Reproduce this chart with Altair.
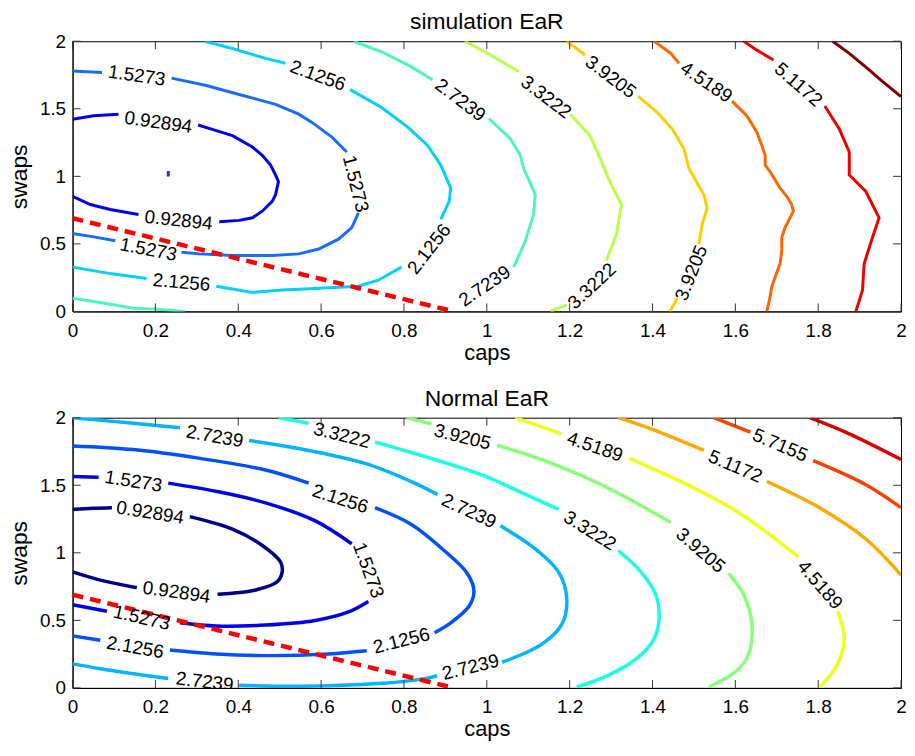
import altair as alt
import pandas as pd

FONT = "Liberation Sans"

# ---------------- data: contour levels ----------------
levels = [0.33061, 0.92894, 1.5273, 2.1256, 2.7239, 3.3222, 3.9205, 4.5189, 5.1172, 5.7155, 6.3138]

# jet colours
sim_colors = ["#2a2ae0", "#0000f0", "#1a6cff", "#00d0ff", "#4cf7b4", "#b8ff47", "#ffcc00", "#ff6600", "#ee0000", "#800000"]
nrm_colors = ["#00008a", "#0000ea", "#0050ff", "#00b4ff", "#1affe4", "#88ff78", "#eeff18", "#ffa800", "#ff4000", "#d80000"]

# ---------------- simulation EaR (top) : contour segments ----------------
sim_0331 = [[(0.231, 0.998), (0.231, 1.039)]]
sim_0929 = [
    [(0.0, 1.423), (0.051, 1.448), (0.111, 1.460)],
    [(0.303, 1.380), (0.347, 1.338), (0.386, 1.301), (0.434, 1.217), (0.458, 1.156), (0.478, 1.083),
     (0.490, 1.010), (0.497, 0.961), (0.490, 0.864), (0.482, 0.815), (0.458, 0.742), (0.434, 0.693),
     (0.402, 0.674), (0.354, 0.664)],
    [(0.159, 0.718), (0.091, 0.754), (0.043, 0.791), (0.0, 0.852)],
]
sim_1527 = [
    [(0.0, 1.779), (0.071, 1.769)],
    [(0.239, 1.727), (0.323, 1.672), (0.402, 1.606), (0.490, 1.533), (0.546, 1.460), (0.578, 1.399),
     (0.626, 1.290), (0.662, 1.180)],
    [(0.690, 0.730), (0.674, 0.620), (0.642, 0.535), (0.594, 0.462), (0.546, 0.426), (0.482, 0.414),
     (0.386, 0.414), (0.307, 0.426), (0.263, 0.438)],
    [(0.103, 0.523), (0.051, 0.552), (0.0, 0.577)],
]
sim_2126 = [
    [(0.319, 2.0), (0.386, 1.946), (0.466, 1.873), (0.514, 1.837)],
    [(0.670, 1.642), (0.746, 1.509), (0.810, 1.363), (0.857, 1.229), (0.889, 1.083), (0.913, 0.912),
     (0.909, 0.815), (0.889, 0.681)],
    [(0.794, 0.328), (0.738, 0.231), (0.690, 0.187), (0.586, 0.170), (0.506, 0.158), (0.434, 0.141),
     (0.386, 0.166), (0.347, 0.187)],
    [(0.179, 0.243), (0.091, 0.280), (0.0, 0.328)],
]
sim_2724 = [
    [(0.0, 0.097), (0.067, 0.066), (0.147, 0.024), (0.203, 0.017), (0.271, 0.0)],
    [(0.678, 2.0), (0.746, 1.922), (0.817, 1.812), (0.869, 1.715)],
    [(1.005, 1.428), (1.057, 1.277), (1.081, 1.156), (1.089, 1.058), (1.117, 0.864), (1.113, 0.718),
     (1.093, 0.523), (1.065, 0.328)],
    [(0.889, 0.0), (0.905, 0.025)],
]
sim_3322 = [
    [(0.947, 2.0), (1.009, 1.898), (1.077, 1.776)],
    [(1.201, 1.460), (1.249, 1.302), (1.277, 1.107), (1.297, 0.961), (1.325, 0.791), (1.313, 0.572),
     (1.289, 0.377)],
    [(1.153, 0.0), (1.193, 0.049)],
]
sim_3921 = [
    [(1.193, 2.0), (1.237, 1.898)],
    [(1.365, 1.594), (1.412, 1.472), (1.448, 1.350), (1.476, 1.204), (1.488, 1.058), (1.524, 0.864),
     (1.532, 0.766), (1.520, 0.645), (1.512, 0.499)],
    [(1.441, 0.0), (1.444, 0.012), (1.460, 0.097)],
]
sim_4519 = [
    [(1.404, 2.0), (1.444, 1.910), (1.464, 1.837)],
    [(1.592, 1.557), (1.612, 1.496), (1.628, 1.447), (1.640, 1.387), (1.652, 1.326), (1.664, 1.229),
     (1.672, 1.156), (1.672, 1.083), (1.684, 1.034), (1.696, 0.973), (1.708, 0.912), (1.724, 0.852),
     (1.736, 0.791), (1.740, 0.742), (1.732, 0.693), (1.720, 0.620), (1.712, 0.547), (1.712, 0.450),
     (1.708, 0.353), (1.696, 0.255), (1.688, 0.182), (1.684, 0.109), (1.676, 0.0)],
]
sim_5117 = [
    [(1.620, 2.0), (1.652, 1.934), (1.692, 1.861)],
    [(1.816, 1.520), (1.851, 1.350), (1.875, 1.180), (1.875, 1.010), (1.915, 0.888), (1.947, 0.693),
     (1.931, 0.547), (1.911, 0.353), (1.907, 0.158), (1.891, 0.0)],
]
sim_5716 = [
    [(1.835, 2.0), (1.875, 1.910), (1.923, 1.788), (1.955, 1.703), (2.0, 1.590)],
]

sim_labels = ["1.5273", "0.92894", "0.92894", "1.5273", "2.1256", "2.1256", "1.5273", "2.1256",
              "2.7239", "2.7239", "3.3222", "3.3222", "3.9205", "3.9205", "4.5189", "5.1172"]
sim_label_x = [0.155, 0.207, 0.256, 0.183, 0.263, 0.592, 0.683, 0.861,
               0.936, 0.995, 1.143, 1.254, 1.299, 1.494, 1.530, 1.752]
sim_label_y = [1.745, 1.399, 0.674, 0.458, 0.214, 1.745, 0.944, 0.462,
               1.564, 0.187, 1.586, 0.187, 1.735, 0.285, 1.696, 1.679]
sim_label_angle = [8, 8, 6, 11, 5, 20, 76, -52, 37, -34, 37, -43, 37, -68, 34, 41]

# ---------------- Normal EaR (bottom) : contour segments ----------------
nrm_0929 = [
    [(0.0, 1.321), (0.050, 1.330), (0.095, 1.334)],
    [(0.283, 1.268), (0.386, 1.175), (0.458, 1.054), (0.502, 0.932), (0.506, 0.859), (0.494, 0.786),
     (0.442, 0.725), (0.386, 0.701), (0.350, 0.693)],
    [(0.155, 0.742), (0.067, 0.798), (0.0, 0.859)],
]
nrm_1527 = [
    [(0.0, 1.565), (0.063, 1.560)],
    [(0.231, 1.516), (0.347, 1.455), (0.466, 1.370), (0.586, 1.236), (0.674, 1.066)],
    [(0.714, 0.640), (0.666, 0.562), (0.586, 0.499), (0.466, 0.465), (0.347, 0.458), (0.259, 0.482)],
    [(0.083, 0.567), (0.0, 0.616)],
]
nrm_2126 = [
    [(0.0, 1.791), (0.147, 1.764), (0.307, 1.699), (0.466, 1.613), (0.570, 1.516)],
    [(0.730, 1.334), (0.817, 1.212), (0.897, 1.017), (0.953, 0.847), (0.969, 0.713), (0.957, 0.604),
     (0.913, 0.482), (0.874, 0.409)],
    [(0.710, 0.275), (0.618, 0.251), (0.466, 0.239), (0.347, 0.251), (0.235, 0.280)],
    [(0.067, 0.353), (0.0, 0.385)],
]
nrm_2724 = [
    [(0.0, 2.0), (0.147, 1.959), (0.259, 1.925)],
    [(0.426, 1.832), (0.546, 1.772), (0.706, 1.662), (0.826, 1.516), (0.881, 1.431)],
    [(1.033, 1.200), (1.117, 1.029), (1.173, 0.859), (1.193, 0.664), (1.181, 0.470), (1.133, 0.324),
     (1.037, 0.190)],
    [(0.880, 0.090), (0.850, 0.069), (0.738, 0.032), (0.546, 0.012), (0.402, 0.020)],
    [(0.231, 0.069), (0.147, 0.105), (0.067, 0.142), (0.0, 0.178)],
]
nrm_3322 = [
    [(0.498, 2.0), (0.570, 1.959)],
    [(0.730, 1.820), (0.826, 1.735), (0.929, 1.638), (0.997, 1.565), (1.077, 1.455), (1.173, 1.321)],
    [(1.317, 1.017), (1.372, 0.859), (1.408, 0.689), (1.416, 0.518), (1.405, 0.372), (1.365, 0.226),
     (1.293, 0.093), (1.217, 0.007)],
]
nrm_3921 = [
    [(0.806, 2.0), (0.866, 1.954)],
    [(1.025, 1.796), (1.157, 1.662), (1.301, 1.467), (1.444, 1.224)],
    [(1.584, 0.847), (1.620, 0.689), (1.640, 0.470), (1.632, 0.251), (1.604, 0.129), (1.536, 0.007)],
]
nrm_4519 = [
    [(1.069, 2.0), (1.181, 1.881)],
    [(1.344, 1.699), (1.476, 1.516), (1.596, 1.321), (1.676, 1.151), (1.752, 0.969)],
    [(1.847, 0.567), (1.863, 0.372), (1.847, 0.178), (1.804, 0.007)],
]
nrm_5117 = [
    [(1.317, 2.0), (1.396, 1.918), (1.524, 1.759)],
    [(1.676, 1.528), (1.796, 1.346), (1.915, 1.102), (2.0, 0.835)],
]
nrm_5716 = [
    [(1.548, 2.0), (1.636, 1.893)],
    [(1.788, 1.682), (1.915, 1.504), (2.0, 1.334)],
]
nrm_6314 = [
    [(1.780, 2.0), (1.875, 1.881), (2.0, 1.691)],
]

nrm_labels = ["2.7239", "3.3222", "3.9205", "4.5189", "5.1172", "5.7155", "1.5273", "2.1256",
              "0.92894", "1.5273", "2.7239", "3.3222", "3.9205", "4.5189", "0.92894", "1.5273",
              "2.1256", "2.1256", "2.7239", "2.7239"]
nrm_label_x = [0.343, 0.650, 0.941, 1.261, 1.600, 1.708, 0.147, 0.646,
               0.187, 0.714, 0.957, 1.249, 1.516, 1.804, 0.251, 0.167,
               0.151, 0.794, 0.961, 0.319]
nrm_label_y = [1.861, 1.869, 1.857, 1.784, 1.638, 1.796, 1.528, 1.399,
               1.297, 0.871, 1.309, 1.163, 1.017, 0.762, 0.708, 0.518,
               0.299, 0.348, 0.153, 0.044]
nrm_label_angle = [10, 14, 14, 19, 23, 23, 9, 18,
                   9, 70, 25, 32, 41, 49, 8, 13,
                   10, -14, -14, 7]

# red dashed line
ref_x = [0.0, 0.92]
ref_y = [0.69, 0.0]

# axis ticks
x_ticks = [0.0, 0.2, 0.4, 0.6, 0.8, 1.0, 1.2, 1.4, 1.6, 1.8, 2.0]
y_ticks = [0.0, 0.5, 1.0, 1.5, 2.0]

# ---------------- build charts ----------------
W, H = 834, 272


def contour_frame(level_lists, colors):
    rows = []
    for li, segs in enumerate(level_lists):
        for si, seg in enumerate(segs):
            for oi, (x, y) in enumerate(seg):
                rows.append({"key": f"L{li}", "seg": f"{li}_{si}", "o": oi, "x": x, "y": y})
    return pd.DataFrame(rows), [f"L{i}" for i in range(len(level_lists))], colors[:len(level_lists)]


def panel(title, level_lists, colors, labels, lx, ly, lang, interp, width_line):
    df, keys, cols = contour_frame(level_lists, colors)
    xs = alt.Scale(domain=[0, 2], nice=False, zero=False)
    ys = alt.Scale(domain=[0, 2], nice=False, zero=False)
    xax = alt.Axis(values=x_ticks, format="~g", title="caps", grid=False, ticks=False, tickSize=0,
                   labelFlush=False, labelOverlap=False, labelPadding=10, titlePadding=2,
                   labelFont=FONT, labelFontSize=19, titleFont=FONT, titleFontSize=22,
                   titleFontWeight="normal", labelColor="black", titleColor="black",
                   domainColor="black")
    yax = alt.Axis(values=y_ticks, format="~g", title="swaps", grid=False, ticks=False, tickSize=0,
                   labelFlush=False, labelOverlap=False, labelPadding=7, titlePadding=8,
                   labelFont=FONT, labelFontSize=19, titleFont=FONT, titleFontSize=23,
                   titleFontWeight="normal", labelColor="black", titleColor="black",
                   domainColor="black")

    lines = alt.Chart(df).mark_line(strokeWidth=width_line, interpolate=interp, clip=True).encode(
        x=alt.X("x:Q", scale=xs, axis=xax),
        y=alt.Y("y:Q", scale=ys, axis=yax),
        detail="seg:N",
        order="o:Q",
        color=alt.Color("key:N", scale=alt.Scale(domain=keys, range=cols), legend=None),
    )

    ref = alt.Chart(pd.DataFrame({"x": ref_x, "y": ref_y})).mark_line(
        color="#ff0000", strokeWidth=4.5, strokeDash=[11, 7], clip=True
    ).encode(x=alt.X("x:Q", scale=xs), y=alt.Y("y:Q", scale=ys))

    ldf = pd.DataFrame({"t": labels, "x": lx, "y": ly, "a": [a % 360 for a in lang]})
    text = alt.Chart(ldf).mark_text(font=FONT, fontSize=19, color="black", clip=True,
                                    align="center", baseline="middle").encode(
        x=alt.X("x:Q", scale=xs), y=alt.Y("y:Q", scale=ys), text="t:N",
        angle=alt.Angle("a:Q", scale=None),
    )

    xt = pd.DataFrame({"v": x_ticks})
    yt = pd.DataFrame({"v": y_ticks})
    tcol = "#333333"
    tb = alt.Chart(xt).mark_rule(color=tcol, strokeWidth=1).encode(
        x=alt.X("v:Q", scale=xs), y=alt.value(H), y2=alt.value(H - 8))
    tt = alt.Chart(xt).mark_rule(color=tcol, strokeWidth=1).encode(
        x=alt.X("v:Q", scale=xs), y=alt.value(0), y2=alt.value(8))
    tl = alt.Chart(yt).mark_rule(color=tcol, strokeWidth=1).encode(
        y=alt.Y("v:Q", scale=ys), x=alt.value(0), x2=alt.value(8))
    tr = alt.Chart(yt).mark_rule(color=tcol, strokeWidth=1).encode(
        y=alt.Y("v:Q", scale=ys), x=alt.value(W), x2=alt.value(W - 8))

    return alt.layer(lines, ref, text, tb, tt, tl, tr).properties(
        width=W, height=H,
        title=alt.TitleParams(title, font=FONT, fontSize=23, fontWeight="normal", color="black",
                              offset=-2, anchor="middle"),
    )


sim_levels = [sim_0331, sim_0929, sim_1527, sim_2126, sim_2724, sim_3322, sim_3921, sim_4519, sim_5117, sim_5716]
nrm_levels = [nrm_0929, nrm_1527, nrm_2126, nrm_2724, nrm_3322, nrm_3921, nrm_4519, nrm_5117, nrm_5716, nrm_6314]

top = panel("simulation EaR", sim_levels, sim_colors, sim_labels, sim_label_x, sim_label_y,
            sim_label_angle, "linear", 3)
bottom = panel("Normal EaR", nrm_levels, nrm_colors, nrm_labels, nrm_label_x, nrm_label_y,
               nrm_label_angle, "catmull-rom", 3.5)

chart = alt.vconcat(top, bottom, spacing=23).resolve_scale(color="independent").properties(
    padding=0, background="white"
).configure_view(stroke="black", strokeWidth=1)

chart.save("out.html", embed_options={"renderer": "svg", "actions": False})
